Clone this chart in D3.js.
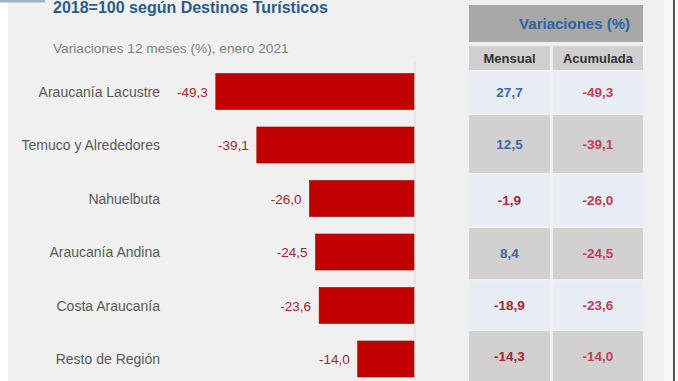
<!DOCTYPE html>
<html><head><meta charset="utf-8">
<script src="https://cdn.jsdelivr.net/npm/d3@7"></script>
<style>body{margin:0;background:#fff}svg{display:block}text{font-family:"Liberation Sans",Arial,sans-serif}</style>
</head><body><svg id="c" width="678" height="381"></svg>
<script>
const categories = ["Araucanía Lacustre","Temuco y Alrededores","Nahuelbuta","Araucanía Andina","Costa Araucanía","Resto de Región"];
const values12m = [-49.3,-39.1,-26.0,-24.5,-23.6,-14.0];
const mensual = [27.7,12.5,-1.9,8.4,-18.9,-14.3];
const acumulada = [-49.3,-39.1,-26.0,-24.5,-23.6,-14.0];
const titleText = "2018=100 según Destinos Turísticos";
const subtitleText = "Variaciones 12 meses (%), enero 2021";
const tableHeader = "Variaciones (%)";
const colHeaders = ["Mensual","Acumulada"];

const fmt = v => d3.format(".1f")(v).replace("\u2212","-").replace(".", ",");
const svg = d3.select("#c");

// backgrounds
svg.append("rect").attr("x",8).attr("y",0).attr("width",662).attr("height",381).attr("fill","#f0f0f0");
svg.append("rect").attr("x",0).attr("y",0).attr("width",45).attr("height",2.5).attr("fill","#9fb3c8");
svg.append("rect").attr("x",664).attr("y",0).attr("width",9).attr("height",381).attr("fill","#f7f7f7");
svg.append("rect").attr("x",673).attr("y",0).attr("width",2).attr("height",381).attr("fill","#555");

// titles
svg.append("text").attr("x",53).attr("y",13).attr("font-size",16).attr("font-weight","bold").attr("fill","#2b5b8c").text(titleText);
svg.append("text").attr("x",53).attr("y",53).attr("font-size",13.7).attr("fill","#7f7f7f").text(subtitleText);

// scales
const x = d3.scaleLinear().domain([-50,0]).range([213,414]);
const y = d3.scaleBand().domain(categories).range([64.75, 64.75+6*53.5]).paddingInner(0.327).paddingOuter(0.1635);

// zero axis line
svg.append("line").attr("x1",x(0)+1).attr("x2",x(0)+1).attr("y1",62).attr("y2",381).attr("stroke","#d9d9d9").attr("stroke-width",1);

svg.selectAll("rect.bar").data(categories).join("rect").attr("class","bar")
  .attr("x",(d,i)=>x(values12m[i])).attr("y",d=>y(d))
  .attr("width",(d,i)=>x(0)-x(values12m[i])).attr("height",y.bandwidth())
  .attr("fill","#c00000").attr("stroke","#a00000").attr("stroke-width",0.6);

svg.selectAll("text.cat").data(categories).join("text").attr("class","cat")
  .attr("x",160).attr("y",d=>y(d)+y.bandwidth()/2+5).attr("text-anchor","end")
  .attr("font-size",14).attr("fill","#595959").text(d=>d);

svg.selectAll("text.val").data(categories).join("text").attr("class","val")
  .attr("x",(d,i)=>x(values12m[i])-8).attr("y",d=>y(d)+y.bandwidth()/2+5).attr("text-anchor","end")
  .attr("font-size",13.5).attr("fill","#a3262c").text((d,i)=>fmt(values12m[i]));

// table
const colX = [469,553], colW = [81,90];
svg.append("rect").attr("x",469).attr("y",5).attr("width",174).attr("height",37).attr("fill","#a8a8a8");
svg.append("text").attr("x",630).attr("y",29).attr("text-anchor","end").attr("font-size",15).attr("font-weight","bold").attr("fill","#2f62a0").text(tableHeader);
colHeaders.forEach((h,j)=>{
  svg.append("rect").attr("x",colX[j]).attr("y",46).attr("width",colW[j]).attr("height",24).attr("fill","#cfcfcf");
  svg.append("text").attr("x",colX[j]+colW[j]/2).attr("y",62.5).attr("text-anchor","middle").attr("font-size",13).attr("font-weight","bold").attr("fill","#333").text(h);
});
const rowEdges = [72,115,175,228,281,331,383];
categories.forEach((c,i)=>{
  const top = rowEdges[i], h = rowEdges[i+1]-top-2;
  const fill = i%2===0 ? "#e8ecf4" : "#d2d0d0";
  [mensual[i], acumulada[i]].forEach((v,j)=>{
    svg.append("rect").attr("x",colX[j]).attr("y",top).attr("width",colW[j]).attr("height",h).attr("fill",fill);
    const col = j===0 ? (v>=0 ? "#3a6aa0" : "#a8262e") : "#c0404f";
    svg.append("text").attr("x",colX[j]+colW[j]/2).attr("y",top+h/2+4.5).attr("text-anchor","middle")
      .attr("font-size",13.5).attr("font-weight","bold").attr("fill",col).text(fmt(v));
  });
});
</script></body></html>
